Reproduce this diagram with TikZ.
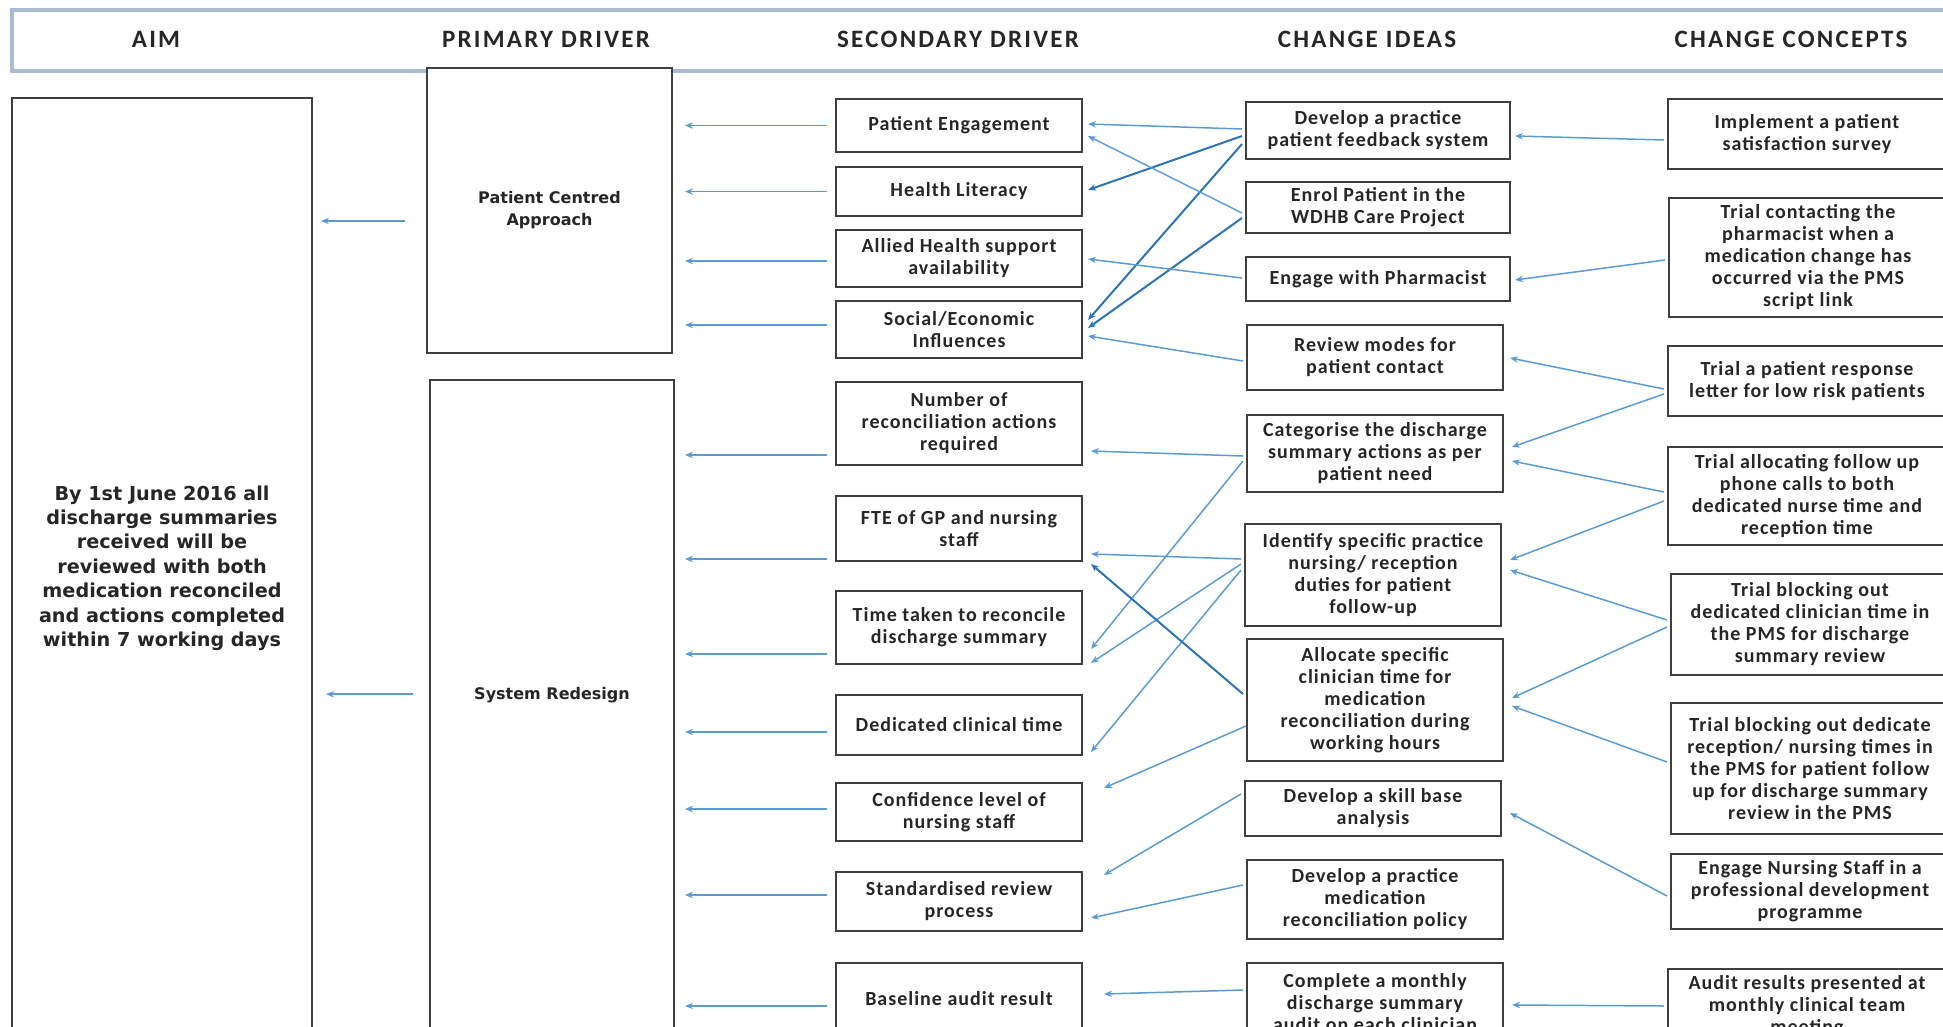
\documentclass[tikz,border=0pt]{standalone}
\usepackage{fontspec}
\setmainfont{Carlito}
\newfontfamily\verd{DejaVu Sans}
\usetikzlibrary{positioning,arrows.meta,calc}
\definecolor{boxline}{HTML}{3F3F3F}
\definecolor{lnblue}{HTML}{5B9BD5}
\definecolor{lndark}{HTML}{2E74B5}
\definecolor{hdrline}{HTML}{A8BCD6}
\definecolor{txt}{HTML}{262626}

\begin{document}
\begin{tikzpicture}[x=0.5pt, y=-0.5pt,
    >={Stealth[length=4pt,width=3.2pt]},
    box/.style={draw=boxline, line width=1pt, fill=white, align=center, inner sep=2pt, text=txt,
      font=\fontsize{10}{11}\selectfont\bfseries\addfontfeature{LetterSpace=5}},
    vbox/.style={box, font=\verd\fontsize{8}{11}\selectfont\bfseries},
    sec/.style={box, minimum width=123pt},
    idea/.style={box, minimum width=128pt},
    idw/.style={box, minimum width=132pt},
    conc/.style={box, minimum width=139pt},
    head/.style={font=\fontsize{12.5}{13}\selectfont\bfseries\addfontfeature{LetterSpace=9}, text=txt},
    lnk/.style={->, draw=lnblue, line width=0.75pt},
    lnkd/.style={lnk, draw=lndark, line width=1pt}]
  \useasboundingbox (0,0) rectangle (1943,1027);

  \node[draw=hdrline, line width=1.6pt, minimum width=974pt, minimum height=30.5pt, inner sep=0pt] (hdr) at (986,40.5) {};
  \node[head] (hAim) at (156,39) {AIM};
  \node[head] (hPri) at (546,39) {PRIMARY DRIVER};
  \node[head] (hSec) at (958,39) {SECONDARY DRIVER};
  \node[head] (hIdea) at (1367,39) {CHANGE IDEAS};
  \node[head] (hConc) at (1791,39) {CHANGE CONCEPTS};

  \node[vbox, minimum width=150pt, minimum height=470pt, font=\verd\fontsize{9.6}{12.2}\selectfont\bfseries] (aim) at (162,568)
    {By 1st June 2016 all\\discharge summaries\\received will be\\reviewed with both\\medication reconciled\\and actions completed\\within 7 working days};
  \node[vbox, minimum width=122.5pt, minimum height=142.5pt] (pca) at (549.5,210.5) {Patient Centred\\Approach};
  \node[vbox, minimum width=122pt, inner sep=0pt, text height=159.5pt, text depth=170pt, anchor=north] (sysr) at (552,379) {System Redesign};

  \node[sec, minimum height=26.5pt] (pe) at (959,125.5) {Patient Engagement};
  \node[sec, minimum height=24.5pt] (hl) at (959,191.5) {Health Literacy};
  \node[sec, minimum height=28.5pt] (all) at (959,258.5) {Allied Health support\\availability};
  \node[sec, minimum height=28.5pt] (soc) at (959,329.5) {Social/Economic\\Influences};
  \node[sec, minimum height=41.5pt] (num) at (959,423.5) {Number of\\reconciliation actions\\required};
  \node[sec, minimum height=32.5pt] (fte) at (959,528.5) {FTE of GP and nursing\\staff};
  \node[sec, minimum height=36.5pt] (ttr) at (959,627.5) {Time taken to reconcile\\discharge summary};
  \node[sec, minimum height=30pt] (ded) at (959,725) {Dedicated clinical time};
  \node[sec, minimum height=29pt] (conf) at (959,812) {Confidence level of\\nursing staff};
  \node[sec, minimum height=29.5pt] (std) at (959,901.5) {Standardised review\\process};
  \node[sec, minimum height=36pt] (base) at (959,999) {Baseline audit result};

  \node[idw, minimum height=28.5pt] (dfb) at (1378,130.5) {Develop a practice\\patient feedback system};
  \node[idw, minimum height=25.5pt] (enr) at (1378,207.5) {Enrol Patient in the\\WDHB Care Project};
  \node[idw, minimum height=22pt] (eph) at (1378,279) {Engage with Pharmacist};
  \node[idea, minimum height=32.5pt] (rvm) at (1375,357.5) {Review modes for\\patient contact};
  \node[idea, minimum height=38.5pt] (cat) at (1375,453.5) {Categorise the discharge\\summary actions as per\\patient need};
  \node[idea, minimum height=51pt] (idf) at (1373,575) {Identify specific practice\\nursing/ reception\\duties for patient\\follow-up};
  \node[idea, minimum height=61pt] (alc) at (1375,700) {Allocate specific\\clinician time for\\medication\\reconciliation during\\working hours};
  \node[idea, minimum height=27.5pt] (skb) at (1373,808.5) {Develop a skill base\\analysis};
  \node[idea, minimum height=39.5pt] (mpl) at (1375,899.5) {Develop a practice\\medication\\reconciliation policy};
  \node[idea, minimum height=40pt] (cmp) at (1375,1003) {Complete a monthly\\discharge summary\\audit on each clinician};

  \node[conc, minimum height=35pt] (imp) at (1807,134) {Implement a patient\\satisfaction survey};
  \node[conc, minimum height=59.5pt] (tcp) at (1808,257.5) {Trial contacting the\\pharmacist when a\\medication change has\\occurred via the PMS\\script link};
  \node[conc, minimum height=35pt] (trl) at (1807,381) {Trial a patient response\\letter for low risk patients};
  \node[conc, minimum height=49pt] (tap) at (1807,496) {Trial allocating follow up\\phone calls to both\\dedicated nurse time and\\reception time};
  \node[conc, minimum height=50.5pt] (tbc) at (1810,624.5) {Trial blocking out\\dedicated clinician time in\\the PMS for discharge\\summary review};
  \node[conc, minimum height=65.5pt] (tbr) at (1810,768.5) {Trial blocking out dedicate\\reception/ nursing times in\\the PMS for patient follow\\up for discharge summary\\review in the PMS};
  \node[conc, minimum height=37.5pt] (eng) at (1810,891.5) {Engage Nursing Staff in a\\professional development\\programme};
  \node[conc, minimum height=37pt] (aud) at (1807,1006) {Audit results presented at\\monthly clinical team\\meeting};

  \draw[lnk] ($(pca.west)+(-21,10.5)$) -- ($(pca.west -| aim.east)+(8,10.5)$);
  \draw[lnk] ($(sysr.mid west)+(-16,0)$) -- ($(sysr.mid west -| aim.east)+(13,0)$);

  \draw[lnk] ($(pe.west)+(-8,0)$) -- ($(pe.west -| pca.east)+(12,0)$);
  \draw[lnk] ($(hl.west)+(-8,0)$) -- ($(hl.west -| pca.east)+(12,0)$);
  \draw[lnk] ($(all.west)+(-8,2.5)$) -- ($(all.west -| pca.east)+(12,2.5)$);
  \draw[lnk] ($(soc.west)+(-8,-4.5)$) -- ($(soc.west -| pca.east)+(12,-4.5)$);
  \draw[lnk] ($(num.west)+(-8,31.5)$) -- ($(num.west -| sysr.east)+(10,31.5)$);
  \draw[lnk] ($(fte.west)+(-8,30.5)$) -- ($(fte.west -| sysr.east)+(10,30.5)$);
  \draw[lnk] ($(ttr.west)+(-8,26.5)$) -- ($(ttr.west -| sysr.east)+(10,26.5)$);
  \draw[lnk] ($(ded.west)+(-8,7)$) -- ($(ded.west -| sysr.east)+(10,7)$);
  \draw[lnk] ($(conf.west)+(-8,-3)$) -- ($(conf.west -| sysr.east)+(10,-3)$);
  \draw[lnk] ($(std.west)+(-8,-6.5)$) -- ($(std.west -| sysr.east)+(10,-6.5)$);
  \draw[lnk] ($(base.west)+(-8,7)$) -- ($(base.west -| sysr.east)+(10,7)$);

  \draw[lnk] ($(dfb.west)+(-3,-1.5)$) -- ($(pe.east)+(5,-1.5)$);
  \draw[lnkd] ($(dfb.west)+(-3,5.5)$) -- ($(hl.east)+(5,-1.5)$);
  \draw[lnkd] ($(dfb.west)+(-3,13.5)$) -- ($(soc.east)+(5,-9.5)$);
  \draw[lnk] ($(enr.west)+(-3,5.5)$) -- ($(pe.east)+(5,10.5)$);
  \draw[lnkd] ($(enr.west)+(-3,10.5)$) -- ($(soc.east)+(5,-1.5)$);
  \draw[lnk] ($(eph.west)+(-3,-1)$) -- ($(all.east)+(5,0.5)$);
  \draw[lnk] ($(rvm.west)+(-3,3.5)$) -- ($(soc.east)+(5,6.5)$);
  \draw[lnk] ($(cat.west)+(-3,2.5)$) -- ($(num.east)+(8,27.5)$);
  \draw[lnk] ($(cat.west)+(-3,7.5)$) -- ($(ttr.east)+(8,21.5)$);
  \draw[lnk] ($(idf.west)+(-3,-16)$) -- ($(fte.east)+(8,25.5)$);
  \draw[lnk] ($(idf.west)+(-3,-11)$) -- ($(ttr.east)+(8,35.5)$);
  \draw[lnk] ($(idf.west)+(-3,-5)$) -- ($(ded.east)+(8,27)$);
  \draw[lnkd] ($(alc.west)+(-3,-6)$) -- ($(fte.east)+(8,35.5)$);
  \draw[lnk] ($(alc.west)+(0,26)$) -- ($(conf.east)+(21,-24)$);
  \draw[lnk] ($(skb.west)+(-3,-14.5)$) -- ($(std.east)+(21,-26.5)$);
  \draw[lnk] ($(mpl.west)+(-3,-14.5)$) -- ($(std.east)+(8,16.5)$);
  \draw[lnk] ($(cmp.west)+(-3,-13)$) -- ($(base.east)+(21,-5)$);

  \draw[lnk] ($(imp.west)+(-3,6)$) -- ($(dfb.east)+(4,5.5)$);
  \draw[lnk] ($(tcp.west)+(-3,2.5)$) -- ($(eph.east)+(4,1)$);
  \draw[lnk] ($(trl.west)+(-3,8)$) -- ($(rvm.east)+(6,0.5)$);
  \draw[lnk] ($(trl.west)+(-3,13)$) -- ($(cat.east)+(8,-6.5)$);
  \draw[lnk] ($(tap.west)+(-3,-4)$) -- ($(cat.east)+(8,7.5)$);
  \draw[lnk] ($(tap.west)+(-3,5)$) -- ($(idf.east)+(8,-15)$);
  \draw[lnk] ($(tbc.west)+(-3,-4.5)$) -- ($(idf.east)+(8,-5)$);
  \draw[lnk] ($(tbc.west)+(-3,2.5)$) -- ($(alc.east)+(8,-2)$);
  \draw[lnk] ($(tbr.west)+(-3,-6.5)$) -- ($(alc.east)+(8,6)$);
  \draw[lnk] ($(eng.west)+(-3,4.5)$) -- ($(skb.east)+(8,4.5)$);
  \draw[lnk] ($(aud.west)+(-3,0)$) -- ($(cmp.east)+(8,2)$);
\end{tikzpicture}
\end{document}
